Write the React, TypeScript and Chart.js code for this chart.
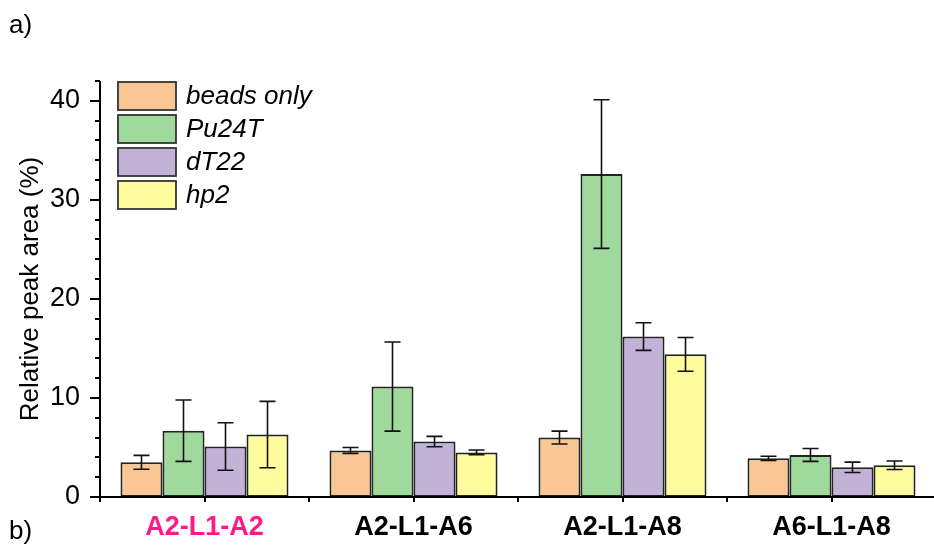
import React, { useEffect, useRef } from 'react';
import { Chart, registerables } from 'chart.js';

Chart.register(...registerables);

const categories = ['A2-L1-A2', 'A2-L1-A6', 'A2-L1-A8', 'A6-L1-A8'];
const categoryColors = ['#FF1A85', '#000000', '#000000', '#000000'];
const seriesNames = ['beads only', 'Pu24T', 'dT22', 'hp2'];
const beadsOnly = [3.5, 4.7, 6.0, 3.9];
const beadsOnlyErr = [0.7, 0.3, 0.65, 0.22];
const pu24t = [6.7, 11.15, 32.6, 4.25];
const pu24tErr = [3.1, 4.5, 7.5, 0.65];
const dt22 = [5.1, 5.6, 16.2, 3.0];
const dt22Err = [2.4, 0.52, 1.4, 0.52];
const hp2 = [6.3, 4.5, 14.4, 3.2];
const hp2Err = [3.35, 0.24, 1.7, 0.43];
const seriesColors = ['#F9C794', '#9FD99C', '#C2B2D7', '#FFFC9E'];
const yTicks = [0, 10, 20, 30, 40];
const yMin = 0;
const yMax = 42;
const yMinorStep = 2;
const yTitle = 'Relative peak area (%)';
const panelLabelA = 'a)';
const panelLabelB = 'b)';

const FONT = "'Liberation Sans', Arial, sans-serif";

const seriesValues = [beadsOnly, pu24t, dt22, hp2];
const seriesErrors = [beadsOnlyErr, pu24tErr, dt22Err, hp2Err];

const decorPlugin = {
  id: 'decor',
  afterDatasetsDraw(chart: any) {
    const { ctx, chartArea, scales } = chart;
    const y = scales.y;
    ctx.save();
    // error bars
    ctx.strokeStyle = '#111';
    ctx.lineWidth = 1.6;
    chart.data.datasets.forEach((ds: any, i: number) => {
      const meta = chart.getDatasetMeta(i);
      meta.data.forEach((bar: any, j: number) => {
        const v = ds.data[j];
        const e = ds.errors[j];
        const yt = y.getPixelForValue(v + e);
        const yb = y.getPixelForValue(v - e);
        const cx = bar.x;
        const cap = 8;
        ctx.beginPath();
        ctx.moveTo(cx, yt);
        ctx.lineTo(cx, yb);
        ctx.moveTo(cx - cap, yt);
        ctx.lineTo(cx + cap, yt);
        ctx.moveTo(cx - cap, yb);
        ctx.lineTo(cx + cap, yb);
        ctx.stroke();
      });
    });
    // axes
    ctx.strokeStyle = '#000';
    ctx.lineWidth = 2;
    ctx.beginPath();
    ctx.moveTo(chartArea.left, chartArea.top);
    ctx.lineTo(chartArea.left, chartArea.bottom);
    ctx.moveTo(chartArea.left - 1, chartArea.bottom);
    ctx.lineTo(chartArea.right, chartArea.bottom);
    ctx.stroke();
    // y ticks
    ctx.beginPath();
    for (let v = yMin; v <= yMax + 1e-9; v += yMinorStep) {
      const py = Math.round(y.getPixelForValue(v));
      const len = v % 10 === 0 ? 10 : 5;
      ctx.moveTo(chartArea.left, py);
      ctx.lineTo(chartArea.left - len, py);
    }
    // x ticks at category centers and boundaries
    const n = categories.length;
    const step = (chartArea.right - chartArea.left) / n / 2;
    for (let k = 0; k <= n * 2; k++) {
      const px = Math.round(chartArea.left + k * step);
      ctx.moveTo(px, chartArea.bottom);
      ctx.lineTo(px, chartArea.bottom + 5);
    }
    ctx.stroke();
    ctx.restore();
  },
  afterDraw(chart: any) {
    const { ctx } = chart;
    ctx.save();
    // legend
    const boxX = 118;
    const boxW = 58;
    const boxH = 28;
    const top0 = 82;
    const gap = 33;
    ctx.font = `italic 26px ${FONT}`;
    ctx.textBaseline = 'middle';
    ctx.textAlign = 'left';
    chart.data.datasets.forEach((ds: any, i: number) => {
      const ty = top0 + i * gap;
      ctx.fillStyle = ds.backgroundColor;
      ctx.fillRect(boxX, ty, boxW, boxH);
      ctx.strokeStyle = '#333';
      ctx.lineWidth = 1.8;
      ctx.strokeRect(boxX, ty, boxW, boxH);
      ctx.fillStyle = '#000';
      ctx.fillText(ds.label, boxX + boxW + 10, ty + boxH / 2 + 1);
    });
    // panel labels
    ctx.font = `26px ${FONT}`;
    ctx.fillStyle = '#000';
    ctx.fillText(panelLabelA, 9, 26);
    ctx.fillText(panelLabelB, 9, 532);
    ctx.restore();
  },
};

export default function App() {
  const ref = useRef<HTMLCanvasElement | null>(null);
  useEffect(() => {
    if (!ref.current) return;
    const chart = new Chart(ref.current, {
      type: 'bar',
      data: {
        labels: categories,
        datasets: seriesNames.map((name, i) => ({
          label: name,
          data: seriesValues[i],
          errors: seriesErrors[i],
          backgroundColor: seriesColors[i],
          borderColor: '#222',
          borderWidth: 2,
          borderSkipped: false,
          categoryPercentage: 0.804,
          barPercentage: 1,
        })) as any,
      },
      options: {
        responsive: false,
        animation: false,
        devicePixelRatio: 1,
        layout: { padding: { left: 0, right: 4, top: 81, bottom: 0 } },
        plugins: {
          legend: { display: false },
          tooltip: { enabled: false },
        },
        scales: {
          x: {
            type: 'category',
            offset: true,
            grid: { display: false, drawTicks: false },
            border: { display: false },
            ticks: {
              autoSkip: false,
              maxRotation: 0,
              minRotation: 0,
              padding: 14,
              font: { family: FONT, size: 27, weight: 'bold' },
              color: (ctx: any) => categoryColors[ctx.index] || '#000',
            },
            afterFit: (s: any) => { s.height = 48; },
          },
          y: {
            min: yMin,
            max: yMax,
            grid: { display: false, drawTicks: false },
            border: { display: false },
            afterBuildTicks: (s: any) => { s.ticks = yTicks.map((v) => ({ value: v })); },
            ticks: {
              padding: 20,
              font: { family: FONT, size: 27 },
              color: '#000',
            },
            title: {
              display: true,
              text: yTitle,
              color: '#000',
              font: { family: FONT, size: 26 },
              padding: { top: 15, bottom: 0 },
            },
            afterFit: (s: any) => { s.width = 100; },
          },
        },
      },
      plugins: [decorPlugin],
    });
    return () => chart.destroy();
  }, []);
  return (
    <div style={{ position: 'fixed', left: 0, top: 0, width: 934, height: 545, overflow: 'hidden', background: '#fff' }}>
      <canvas ref={ref} width={940} height={545} style={{ display: 'block', width: 940, height: 545 }} />
    </div>
  );
}
